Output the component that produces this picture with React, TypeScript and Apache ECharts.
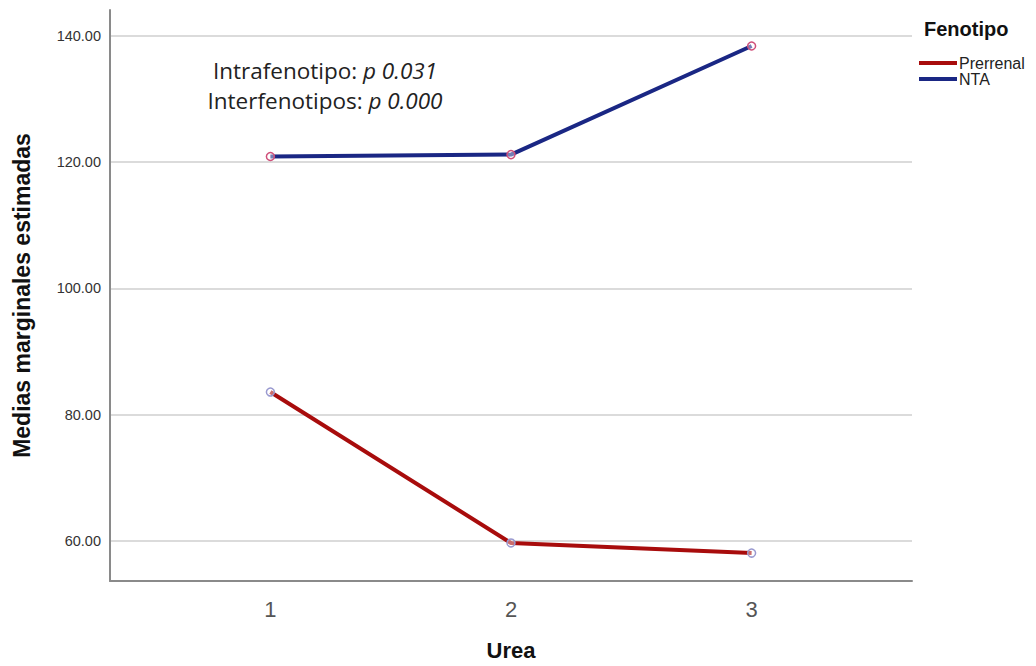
import React, { useEffect, useRef } from "react";
import * as echarts from "echarts";

const ureaLevels = [1, 2, 3];
const prerrenal = [83.6, 59.7, 58.1];
const nta = [120.9, 121.2, 138.4];
const yTicks = [60, 80, 100, 120, 140];
const seriesNames = ["Prerrenal", "NTA"];
const seriesColors = ["#a80c0c", "#1a2784"];

export default function App() {
  const ref = useRef<HTMLDivElement>(null);
  useEffect(() => {
    document.body.style.margin = "0";
    const chart = echarts.init(ref.current!, null, { renderer: "svg" });
    const font = "Liberation Sans, Arial, sans-serif";
    const rich = {
      n: { fontFamily: "Open Sans", fontSize: 22.5, fill: "#222" },
      i: { fontFamily: "Open Sans", fontSize: 22.5, fontStyle: "italic", fill: "#222" },
    };
    chart.setOption({
      animation: false,
      backgroundColor: "#ffffff",
      grid: { left: 110, top: 10, right: 124, bottom: 84, containLabel: false },
      xAxis: {
        type: "value",
        min: 1 / 3,
        max: 11 / 3,
        name: "Urea",
        nameLocation: "middle",
        nameGap: 58,
        nameTextStyle: { fontFamily: font, fontWeight: "bold", fontSize: 22, color: "#111" },
        axisLine: { show: true, lineStyle: { color: "#8a8a8a", width: 2 } },
        axisTick: { show: false, customValues: ureaLevels },
        axisLabel: { customValues: ureaLevels, fontFamily: font, fontSize: 22, color: "#555", margin: 17, formatter: (v: number) => String(v) },
        splitLine: { show: false },
      },
      yAxis: {
        type: "value",
        min: 53.68,
        max: 144.1,
        name: "Medias marginales estimadas",
        nameLocation: "middle",
        nameGap: 77,
        nameTextStyle: { fontFamily: font, fontWeight: "bold", fontSize: 23, color: "#111" },
        axisLine: { show: true, lineStyle: { color: "#8a8a8a", width: 2 } },
        axisTick: { show: false, customValues: yTicks },
        axisLabel: { customValues: yTicks, fontFamily: font, fontSize: 14.5, color: "#333", margin: 9, formatter: (v: number) => v.toFixed(2) },
        splitLine: { show: true, lineStyle: { color: "#cfcfcf", width: 1.5 } },
      },
      legend: {
        orient: "vertical",
        left: 914,
        top: 50,
        itemWidth: 38,
        itemHeight: 4,
        itemGap: 0,
        icon: "rect",
        textStyle: { fontFamily: font, fontSize: 16, lineHeight: 16, color: "#222", padding: [0, 0, 0, -3] },
        data: seriesNames.map((n, i) => ({ name: n, itemStyle: { color: seriesColors[i], borderWidth: 0 } })),
      },
      graphic: [
        {
          type: "text",
          left: 924,
          top: 19,
          style: { text: "Fenotipo", fontFamily: font, fontWeight: "bold", fontSize: 20, fill: "#111" },
        },
        {
          type: "text",
          x: 325,
          y: 70,
          style: { text: "{n|Intrafenotipo: }{i|p 0.031}", align: "center", verticalAlign: "middle", rich },
        },
        {
          type: "text",
          x: 325,
          y: 100,
          style: { text: "{n|Interfenotipos: }{i|p 0.000}", align: "center", verticalAlign: "middle", rich },
        },
      ],
      series: [
        {
          name: seriesNames[0],
          type: "line",
          data: ureaLevels.map((x, i) => [x, prerrenal[i]]),
          color: seriesColors[0],
          lineStyle: { color: seriesColors[0], width: 4 },
          symbol: "circle",
          symbolSize: 8,
          itemStyle: { color: "rgba(255,255,255,0.4)", borderColor: "#9a9ad0", borderWidth: 1.5 },
          z: 3,
        },
        {
          name: seriesNames[1],
          type: "line",
          data: ureaLevels.map((x, i) => [x, nta[i]]),
          color: seriesColors[1],
          lineStyle: { color: seriesColors[1], width: 4 },
          symbol: "circle",
          symbolSize: 8,
          itemStyle: { color: "rgba(255,255,255,0.4)", borderColor: "#d0507a", borderWidth: 1.5 },
          z: 3,
        },
      ],
    });
    return () => chart.dispose();
  }, []);
  return <div ref={ref} style={{ width: 1036, height: 666 }} />;
}
